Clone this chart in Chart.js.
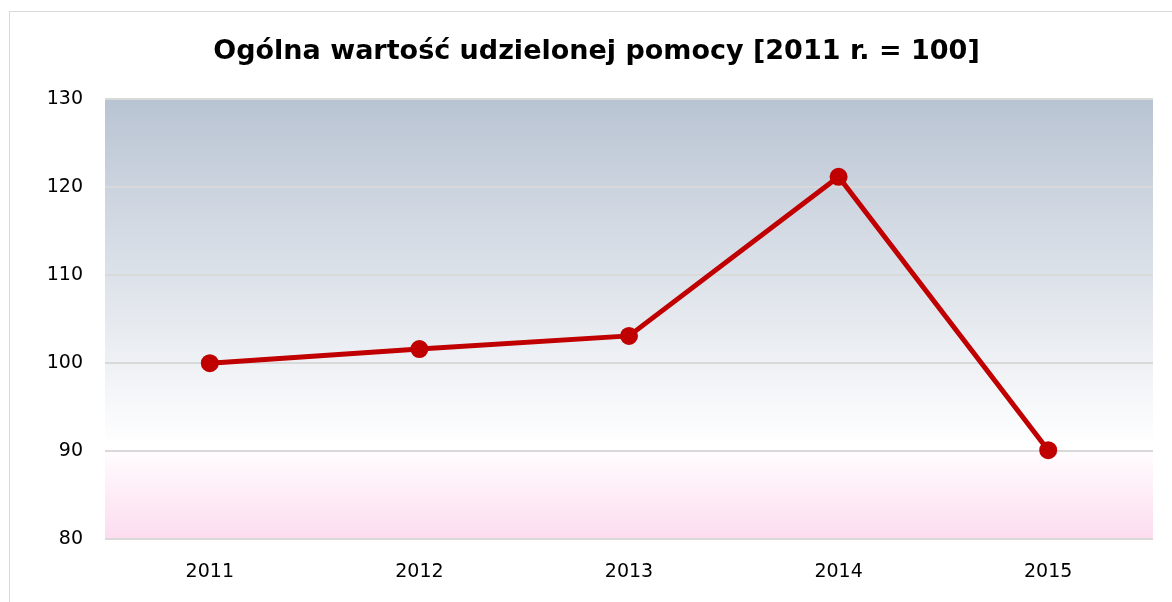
<!DOCTYPE html>
<html>
<head>
<meta charset="utf-8">
<script src="https://cdn.jsdelivr.net/npm/chart.js@4/dist/chart.umd.min.js"></script>
<style>
html,body{margin:0;padding:0;background:#fff;overflow:hidden;}
#wrap{position:relative;width:1172px;height:602px;}
#frame{position:absolute;left:9px;top:11px;width:1200px;height:620px;border:1px solid #d9d9d9;box-sizing:border-box;}
#c{position:absolute;left:0;top:0;}
</style>
</head>
<body>
<div id="wrap">
<div id="frame"></div>
<canvas id="c" width="1172" height="602"></canvas>
</div>
<script>
// dane
var years = ["2011", "2012", "2013", "2014", "2015"];
var values = [100, 101.6, 103.1, 121.2, 90.1];
var yMin = 80, yMax = 130, yStep = 10;
var chartTitle = "Ogólna wartość udzielonej pomocy [2011 r. = 100]";

var plotBg = {
	id: "plotBg",
	beforeDraw: function(chart) {
		var ctx = chart.ctx, a = chart.chartArea;
		var g = ctx.createLinearGradient(0, a.top, 0, a.bottom);
		g.addColorStop(0, "#b9c4d3");
		g.addColorStop(0.79, "#ffffff");
		g.addColorStop(0.8, "#fffcfe");
		g.addColorStop(1, "#fcdcef");
		ctx.save();
		ctx.fillStyle = g;
		ctx.fillRect(a.left, a.top, a.right - a.left, a.bottom - a.top);
		ctx.restore();
	}
};

var tickFont = { family: "DejaVu Sans", size: 19 };

var ctx = document.getElementById("c").getContext("2d");
var chart = new Chart(ctx, {
	type: "line",
	data: {
		labels: years,
		datasets: [{
			data: values,
			borderColor: "#c00000",
			backgroundColor: "#c00000",
			borderWidth: 5,
			pointRadius: 6.5,
			pointHoverRadius: 6.5,
			tension: 0,
			fill: false
		}]
	},
	options: {
		responsive: false,
		animation: false,
		layout: { padding: { left: 40, right: 19, top: 0, bottom: 0 } },
		plugins: {
			legend: { display: false },
			tooltip: { enabled: false },
			title: {
				display: true,
				text: chartTitle,
				color: "#000",
				font: { family: "DejaVu Sans", size: 27, weight: "bold" },
				padding: { top: 36, bottom: 31 }
			}
		},
		scales: {
			x: {
				offset: true,
				grid: { display: false, drawTicks: false },
				border: { display: false },
				ticks: { color: "#000", padding: 22, font: tickFont },
				afterFit: function(s) { s.height = 63; }
			},
			y: {
				min: yMin,
				max: yMax,
				ticks: { stepSize: yStep, color: "#000", padding: 22, font: tickFont },
				grid: { color: "#d9d9d9", lineWidth: 2, drawTicks: false },
				border: { display: false },
				afterFit: function(s) { s.width = 65; }
			}
		}
	},
	plugins: [plotBg]
});
</script>
</body>
</html>
